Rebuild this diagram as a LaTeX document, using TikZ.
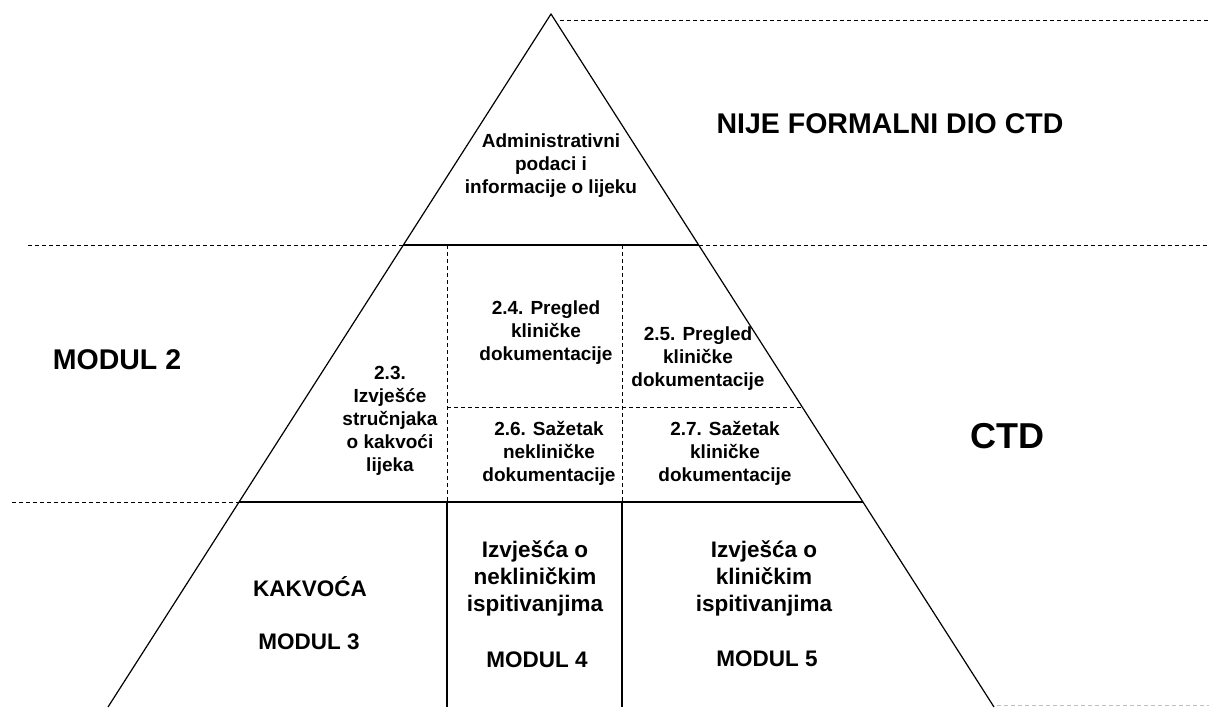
\documentclass[tikz,border=0pt]{standalone}
\usepackage{fontspec}
\setmainfont{Liberation Sans}
\usepackage{tikz}

\begin{document}
\begin{tikzpicture}[x=1pt, y=-1pt,
        edge/.style={black, line width=1.2pt},
        guide/.style={black, line width=1pt, dash pattern=on 4pt off 3pt},
        small/.style={align=center, inner sep=0pt, font=\fontsize{19}{23}\selectfont\bfseries},
        mid/.style={align=center, inner sep=0pt, font=\fontsize{22.5}{27}\selectfont\bfseries},
        big/.style={inner sep=0pt, font=\fontsize{28.5}{34}\selectfont\bfseries}]
        \useasboundingbox (0,0) rectangle (1209,707);

        % pyramid corners
        \coordinate (T) at (551, 14);
        \coordinate (BL) at (108, 707);
        \coordinate (BR) at (994, 707);
        \coordinate (L1) at (403.3, 245);
        \coordinate (R1) at (698.7, 245);
        \coordinate (L2) at (239, 502);
        \coordinate (R2) at (863, 502);
        \coordinate (M1) at (447, 245);
        \coordinate (M2) at (447, 502);
        \coordinate (N1) at (622, 245);
        \coordinate (N2) at (622, 502);
        \coordinate (M3) at (447, 707);
        \coordinate (N3) at (622, 707);
        \coordinate (H1) at (447, 407);
        \coordinate (H2) at (802.2, 407);

        % free ends of the guide lines
        \coordinate (G1) at (560, 20);
        \coordinate (G2) at (1209, 20);
        \coordinate (G3) at (28, 245);
        \coordinate (G4) at (1209, 245);
        \coordinate (G5) at (12, 502);
        \coordinate (G6) at (997, 705);
        \coordinate (G7) at (1209, 705);

        \draw[edge] (BL) -- (T) -- (BR);
        \draw[edge] (L1) -- (R1);
        \draw[edge] (L2) -- (R2);
        \draw[edge] (M2) -- (M3);
        \draw[edge] (N2) -- (N3);

        \draw[guide] (M1) -- (M2);
        \draw[guide] (N1) -- (N2);
        \draw[guide] (H1) -- (H2);
        \draw[guide] (G1) -- (G2);
        \draw[guide] (G3) -- (L1);
        \draw[guide] (R1) -- (G4);
        \draw[guide] (G5) -- (L2);
        \draw[guide, black!25] (G6) -- (G7);

        \node[small] (admin) at (551, 166) {Administrativni\\podaci i\\informacije o lijeku};
        \node[big] (nije) at (890, 124) {NIJE FORMALNI DIO CTD};
        \node[big] (mod2) at (117, 360) {MODUL 2};
        \node[big, font=\fontsize{36}{42}\selectfont\bfseries] (ctd) at (1007, 436) {CTD};

        \node[small] (s23) at (390, 421) {2.3.\\Izvješće\\stručnjaka\\o kakvoći\\lijeka};
        \node[small] (s24) at (546, 333) {2.4. Pregled\\kliničke\\dokumentacije};
        \node[small] (s25) at (698, 359) {2.5. Pregled\\kliničke\\dokumentacije};
        \node[small] (s26) at (549, 453) {2.6. Sažetak\\nekliničke\\dokumentacije};
        \node[small] (s27) at (725, 453) {2.7. Sažetak\\kliničke\\dokumentacije};

        \node[mid] (kak) at (310, 587) {KAKVOĆA};
        \node[mid] (mod3) at (309, 642) {MODUL 3};
        \node[mid] (nekl) at (535, 578) {Izvješća o\\nekliničkim\\ispitivanjima};
        \node[mid] (mod4) at (537, 660) {MODUL 4};
        \node[mid] (klin) at (764, 578) {Izvješća o\\kliničkim\\ispitivanjima};
        \node[mid] (mod5) at (767, 659) {MODUL 5};
    \end{tikzpicture}
\end{document}
